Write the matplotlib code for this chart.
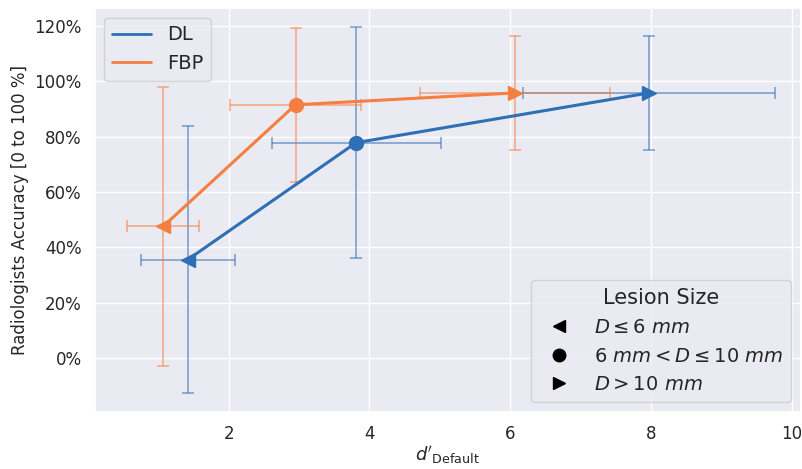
import numpy as np
import matplotlib
matplotlib.use("Agg")
import matplotlib.pyplot as plt
import seaborn as sns
from matplotlib.lines import Line2D
from matplotlib.ticker import PercentFormatter

sns.set_theme(style="darkgrid")
plt.rcParams['font.family'] = ['DejaVu Sans']

BLUE, ORANGE = "#2f6fb5", "#f57f40"

markers = ["<", "o", ">"]
size_labels = [r"$D \leq 6\ mm$", r"$6\ mm < D \leq 10\ mm$", r"$D > 10\ mm$"]

# d' (Default) and accuracy [%] with error bars
dl_d = [1.42, 3.81, 7.97]
dl_d_err = [0.67, 1.20, 1.79]
dl_acc = [35.5, 77.8, 95.8]
dl_acc_err = [48.3, 41.8, 20.5]

fbp_d = [1.07, 2.95, 6.07]
fbp_d_err = [0.51, 0.93, 1.35]
fbp_acc = [47.5, 91.5, 95.8]
fbp_acc_err = [50.5, 27.8, 20.5]

fig, ax = plt.subplots(figsize=(8.03, 4.69), dpi=100)

for d, de, a, ae, c in [(dl_d, dl_d_err, dl_acc, dl_acc_err, BLUE),
                        (fbp_d, fbp_d_err, fbp_acc, fbp_acc_err, ORANGE)]:
    ax.errorbar(d, a, xerr=de, yerr=ae, fmt="none", ecolor=c, alpha=0.55,
                elinewidth=1.3, capsize=4.5, capthick=1.3, zorder=2)
    ax.plot(d, a, color=c, lw=2.2, zorder=3)
    for x, y, m in zip(d, a, markers):
        ax.plot(x, y, marker=m, color=c, ms=10, ls="none", zorder=4)

ax.set_xlim(0.1, 10.12)
ax.set_ylim(-19.5, 126.5)
ax.set_xticks([2, 4, 6, 8, 10])
ax.set_yticks([0, 20, 40, 60, 80, 100, 120])
ax.yaxis.set_major_formatter(PercentFormatter(100, decimals=0))
ax.tick_params(labelsize=12)
ax.set_xlabel(r"$d'_{\mathrm{Default}}$", fontsize=13, labelpad=1)
ax.set_ylabel("Radiologists Accuracy [0 to 100 %]", fontsize=12)

h1 = [Line2D([], [], color=BLUE, lw=2), Line2D([], [], color=ORANGE, lw=2)]
leg1 = ax.legend(h1, ["DL", "FBP"], loc="upper left", fontsize=14)
ax.add_artist(leg1)

h2 = [Line2D([], [], marker=m, color="black", ls="none", ms=9) for m in markers]
ax.legend(h2, size_labels, loc="lower right", fontsize=14, title="Lesion Size",
          title_fontsize=15)

fig.subplots_adjust(left=0.118, right=0.997, top=0.983, bottom=0.122)
fig.savefig("out.png", dpi=100)
